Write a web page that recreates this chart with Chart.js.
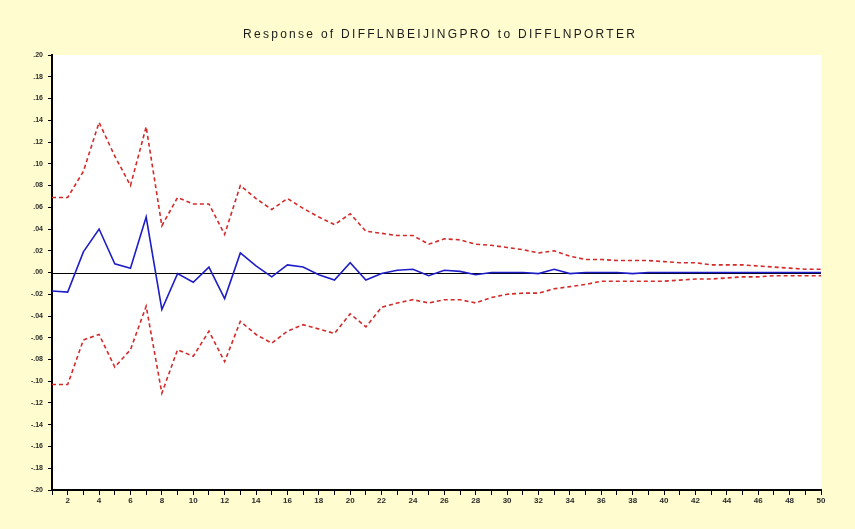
<!DOCTYPE html>
<html>
<head>
<meta charset="utf-8">
<title>Response of DIFFLNBEIJINGPRO to DIFFLNPORTER</title>
<script src="https://cdn.jsdelivr.net/npm/chart.js@4"></script>
<style>
  html, body { margin: 0; padding: 0; background: #FFFDCF; }
  #wrap { width: 855px; height: 529px; }
</style>
</head>
<body>
<div id="wrap"><canvas id="irf" width="855" height="529"></canvas></div>
<script>
// Forecast horizon (periods)
const periods = [1, 2, 3, 4, 5, 6, 7, 8, 9, 10, 11, 12, 13, 14, 15, 16, 17, 18, 19, 20,
  21, 22, 23, 24, 25, 26, 27, 28, 29, 30, 31, 32, 33, 34, 35, 36, 37, 38, 39, 40,
  41, 42, 43, 44, 45, 46, 47, 48, 49, 50];

// Impulse response of DIFFLNBEIJINGPRO to a DIFFLNPORTER shock
const response = [-0.017, -0.018, 0.019, 0.040, 0.008, 0.004, 0.051, -0.034, -0.001, -0.009,
  0.005, -0.024, 0.018, 0.006, -0.004, 0.007, 0.005, -0.002, -0.007, 0.009,
  -0.007, -0.001, 0.002, 0.003, -0.003, 0.002, 0.001, -0.002, 0.000, 0.000,
  0.000, -0.001, 0.003, -0.001, 0.000, 0.000, 0.000, -0.001, 0.000, 0.000,
  0.000, 0.000, 0.000, 0.000, 0.000, 0.000, 0.000, 0.000, 0.000, 0.000];

// +/- 2 S.E. bands
const upperBand = [0.069, 0.069, 0.093, 0.138, 0.107, 0.080, 0.134, 0.043, 0.069, 0.063,
  0.063, 0.035, 0.080, 0.068, 0.058, 0.068, 0.059, 0.051, 0.044, 0.054,
  0.038, 0.036, 0.034, 0.034, 0.026, 0.031, 0.030, 0.026, 0.025, 0.023,
  0.021, 0.018, 0.020, 0.015, 0.012, 0.012, 0.011, 0.011, 0.011, 0.010,
  0.009, 0.009, 0.007, 0.007, 0.007, 0.006, 0.005, 0.004, 0.003, 0.003];

const lowerBand = [-0.103, -0.103, -0.062, -0.057, -0.087, -0.071, -0.031, -0.111, -0.071, -0.077,
  -0.054, -0.082, -0.045, -0.057, -0.065, -0.054, -0.048, -0.052, -0.056, -0.038,
  -0.050, -0.032, -0.028, -0.025, -0.028, -0.025, -0.025, -0.028, -0.023, -0.020,
  -0.019, -0.019, -0.015, -0.013, -0.011, -0.008, -0.008, -0.008, -0.008, -0.008,
  -0.007, -0.006, -0.006, -0.005, -0.004, -0.004, -0.003, -0.003, -0.003, -0.003];

const chartTitle = 'Response of DIFFLNBEIJINGPRO to DIFFLNPORTER';

const FONT = "'Liberation Sans', Arial, sans-serif";

// Yellow page, white plotting area, spaced-out title
const framePlugin = {
  id: 'frame',
  beforeDraw(chart) {
    const { ctx, chartArea: a } = chart;
    ctx.save();
    ctx.fillStyle = '#FFFDCF';
    ctx.fillRect(0, 0, chart.width, chart.height);
    ctx.fillStyle = '#FFFFFF';
    ctx.fillRect(a.left, a.top, a.right - a.left, a.bottom - a.top);

    ctx.font = '12px ' + FONT;
    ctx.fillStyle = '#1a1a1a';
    ctx.textBaseline = 'middle';
    ctx.textAlign = 'left';
    const plain = ctx.measureText(chartTitle).width;
    const target = 392;
    const spacing = Math.max(0, (target - plain) / (chartTitle.length - 1));
    ctx.letterSpacing = spacing.toFixed(2) + 'px';
    ctx.fillText(chartTitle, 243, 35);
    ctx.restore();
  },
  beforeDatasetsDraw(chart) {
    // zero reference line
    const { ctx, chartArea: a, scales } = chart;
    const y0 = Math.round(scales.y.getPixelForValue(0)) + 0.5;
    ctx.save();
    ctx.strokeStyle = '#000000';
    ctx.lineWidth = 1;
    ctx.beginPath();
    ctx.moveTo(a.left, y0);
    ctx.lineTo(a.right, y0);
    ctx.stroke();
    ctx.restore();
  }
};

const bandStyle = {
  borderColor: '#D42A2A',
  borderWidth: 1.6,
  borderDash: [4, 3],
  pointRadius: 0,
  tension: 0,
  fill: false
};

new Chart(document.getElementById('irf'), {
  type: 'line',
  data: {
    labels: periods,
    datasets: [
      Object.assign({ label: 'Upper', data: upperBand }, bandStyle),
      Object.assign({ label: 'Lower', data: lowerBand }, bandStyle),
      {
        label: 'Response',
        data: response,
        borderColor: '#1E1EC8',
        borderWidth: 1.6,
        pointRadius: 0,
        tension: 0,
        fill: false
      }
    ]
  },
  options: {
    responsive: false,
    animation: false,
    devicePixelRatio: 1,
    layout: { padding: { top: 55, right: 34, left: 0, bottom: 0 } },
    plugins: {
      legend: { display: false },
      title: { display: false },
      tooltip: { enabled: false }
    },
    scales: {
      x: {
        type: 'category',
        offset: false,
        grid: {
          display: true,
          drawOnChartArea: false,
          drawTicks: true,
          tickLength: 5,
          color: '#000000',
          lineWidth: 1
        },
        border: { display: true, color: '#000000', width: 2 },
        ticks: {
          autoSkip: false,
          maxRotation: 0,
          minRotation: 0,
          padding: 1,
          color: '#2a2a2a',
          font: { family: FONT, size: 8, weight: 'bold' },
          callback: (v, i) => (periods[i] % 2 === 0 ? String(periods[i]) : '')
        },
        afterFit: (s) => { s.height = 39; }
      },
      y: {
        min: -0.2,
        max: 0.2,
        grid: {
          display: true,
          drawOnChartArea: false,
          drawTicks: true,
          tickLength: 4,
          color: '#000000',
          lineWidth: 1
        },
        border: { display: true, color: '#000000', width: 2 },
        ticks: {
          stepSize: 0.02,
          padding: 5,
          color: '#2a2a2a',
          font: { family: FONT, size: 7, weight: 'bold' },
          callback: (v) => {
            const n = Math.round(v * 100);
            const s = (Math.abs(n) / 100).toFixed(2).replace(/^0/, '');
            return (n < 0 ? '-' : '') + s;
          }
        },
        afterFit: (s) => { s.width = 52; }
      }
    }
  },
  plugins: [framePlugin]
});
</script>
</body>
</html>
